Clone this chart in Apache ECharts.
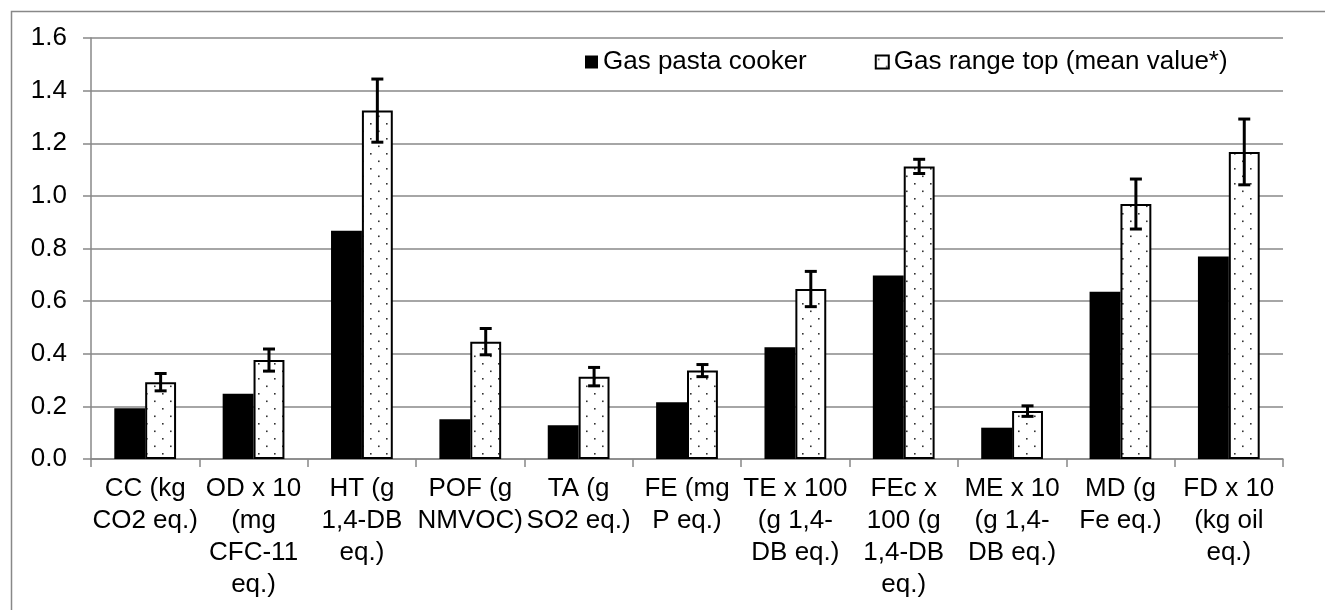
<!DOCTYPE html>
<html lang="en">
<head>
    <meta charset="UTF-8">
    <title>Gas pasta cooker vs gas range top</title>
    <script src="https://cdn.jsdelivr.net/npm/echarts@6/dist/echarts.min.js"></script>
    <style>
        html, body { margin: 0; padding: 0; background: #fff; }
        #main { width: 1325px; height: 610px; }
    </style>
</head>
<body>
    <div id="main"></div>
    <script>
        // impact categories (line breaks as in the original wrapped labels)
        var categories = [
            'CC (kg\nCO2 eq.)',
            'OD x 10\n(mg\nCFC-11\neq.)',
            'HT (g\n1,4-DB\neq.)',
            'POF (g\nNMVOC)',
            'TA (g\nSO2 eq.)',
            'FE (mg\nP eq.)',
            'TE x 100\n(g 1,4-\nDB eq.)',
            'FEc x\n100 (g\n1,4-DB\neq.)',
            'ME x 10\n(g 1,4-\nDB eq.)',
            'MD (g\nFe eq.)',
            'FD x 10\n(kg oil\neq.)'
        ];
        var seriesNames = ['Gas pasta cooker', 'Gas range top (mean value*)'];
        var pastaCooker = [0.193, 0.248, 0.867, 0.151, 0.128, 0.216, 0.425, 0.697, 0.119, 0.636, 0.770];
        var rangeTop = [0.292, 0.376, 1.324, 0.446, 0.313, 0.336, 0.646, 1.112, 0.182, 0.969, 1.167];
        var rangeTopErr = [0.033, 0.042, 0.12, 0.05, 0.035, 0.023, 0.067, 0.027, 0.02, 0.095, 0.125];

        var FONT = '"Liberation Sans", Arial, sans-serif';
        var GREY = '#888888';

        // dotted fill like the excel pattern
        function dotPattern() {
            var c = document.createElement('canvas');
            c.width = 16;
            c.height = 15;
            var ctx = c.getContext('2d');
            ctx.fillStyle = '#fff';
            ctx.fillRect(0, 0, 16, 15);
            ctx.fillStyle = '#333';
            ctx.fillRect(2, 3, 1.6, 1.6);
            ctx.fillRect(10, 10.5, 1.6, 1.6);
            return c;
        }

        var errData = rangeTop.map(function (v, i) { return [i, v, rangeTopErr[i]]; });

        var chart = echarts.init(document.getElementById('main'));
        var option = {
            animation: false,
            textStyle: { fontFamily: FONT },
            graphic: [{
                type: 'rect',
                shape: { x: 11.5, y: 11.5, width: 1400, height: 700 },
                style: { fill: 'none', stroke: GREY, lineWidth: 1.5 },
                silent: true
            }],
            legend: {
                data: seriesNames,
                left: 580,
                top: 44,
                itemWidth: 13,
                itemHeight: 13,
                itemGap: 68,
                icon: 'rect',
                selectedMode: false,
                textStyle: { fontSize: 26, color: '#000', fontFamily: FONT }
            },
            grid: {
                left: 91,
                right: 42,
                top: 38,
                bottom: 151,
                containLabel: false
            },
            xAxis: {
                type: 'category',
                data: categories,
                axisLine: { lineStyle: { color: GREY, width: 1.5 } },
                axisTick: { show: true, length: 8, interval: 0, lineStyle: { color: GREY, width: 1.5 } },
                axisLabel: {
                    interval: 0,
                    fontSize: 26,
                    lineHeight: 32,
                    color: '#000',
                    margin: 14,
                    fontFamily: FONT
                }
            },
            yAxis: {
                type: 'value',
                min: 0,
                max: 1.6,
                interval: 0.2,
                axisLine: { show: true, lineStyle: { color: GREY, width: 1.5 } },
                axisTick: { show: true, length: 8, lineStyle: { color: GREY, width: 1.5 } },
                splitLine: { lineStyle: { color: GREY, width: 1.5 } },
                axisLabel: {
                    fontSize: 26,
                    color: '#000',
                    margin: 24,
                    fontFamily: FONT,
                    formatter: function (v) { return v.toFixed(1); }
                }
            },
            series: [
                {
                    name: seriesNames[0],
                    type: 'bar',
                    data: pastaCooker,
                    barWidth: '28.5%',
                    barGap: '0%',
                    itemStyle: { color: '#000' }
                },
                {
                    name: seriesNames[1],
                    type: 'bar',
                    data: rangeTop,
                    barWidth: '28.5%',
                    barGap: '0%',
                    itemStyle: {
                        color: { image: dotPattern(), repeat: 'repeat' },
                        borderColor: '#000',
                        borderWidth: 2
                    }
                },
                {
                    name: 'err',
                    type: 'custom',
                    data: errData,
                    encode: { x: 0, y: 1 },
                    z: 5,
                    renderItem: function (params, api) {
                        var i = api.value(0);
                        var v = api.value(1);
                        var e = api.value(2);
                        var band = api.size([1, 0])[0];
                        var off = band * 0.1425;
                        var hi = api.coord([i, v + e]);
                        var lo = api.coord([i, v - e]);
                        var cx = hi[0] + off;
                        var cap = 6;
                        var st = { stroke: '#000', lineWidth: 3 };
                        return {
                            type: 'group',
                            children: [
                                { type: 'line', shape: { x1: cx, y1: hi[1], x2: cx, y2: lo[1] }, style: st },
                                { type: 'line', shape: { x1: cx - cap, y1: hi[1], x2: cx + cap, y2: hi[1] }, style: st },
                                { type: 'line', shape: { x1: cx - cap, y1: lo[1], x2: cx + cap, y2: lo[1] }, style: st }
                            ]
                        };
                    }
                }
            ]
        };

        chart.setOption(option);
    </script>
</body>
</html>
